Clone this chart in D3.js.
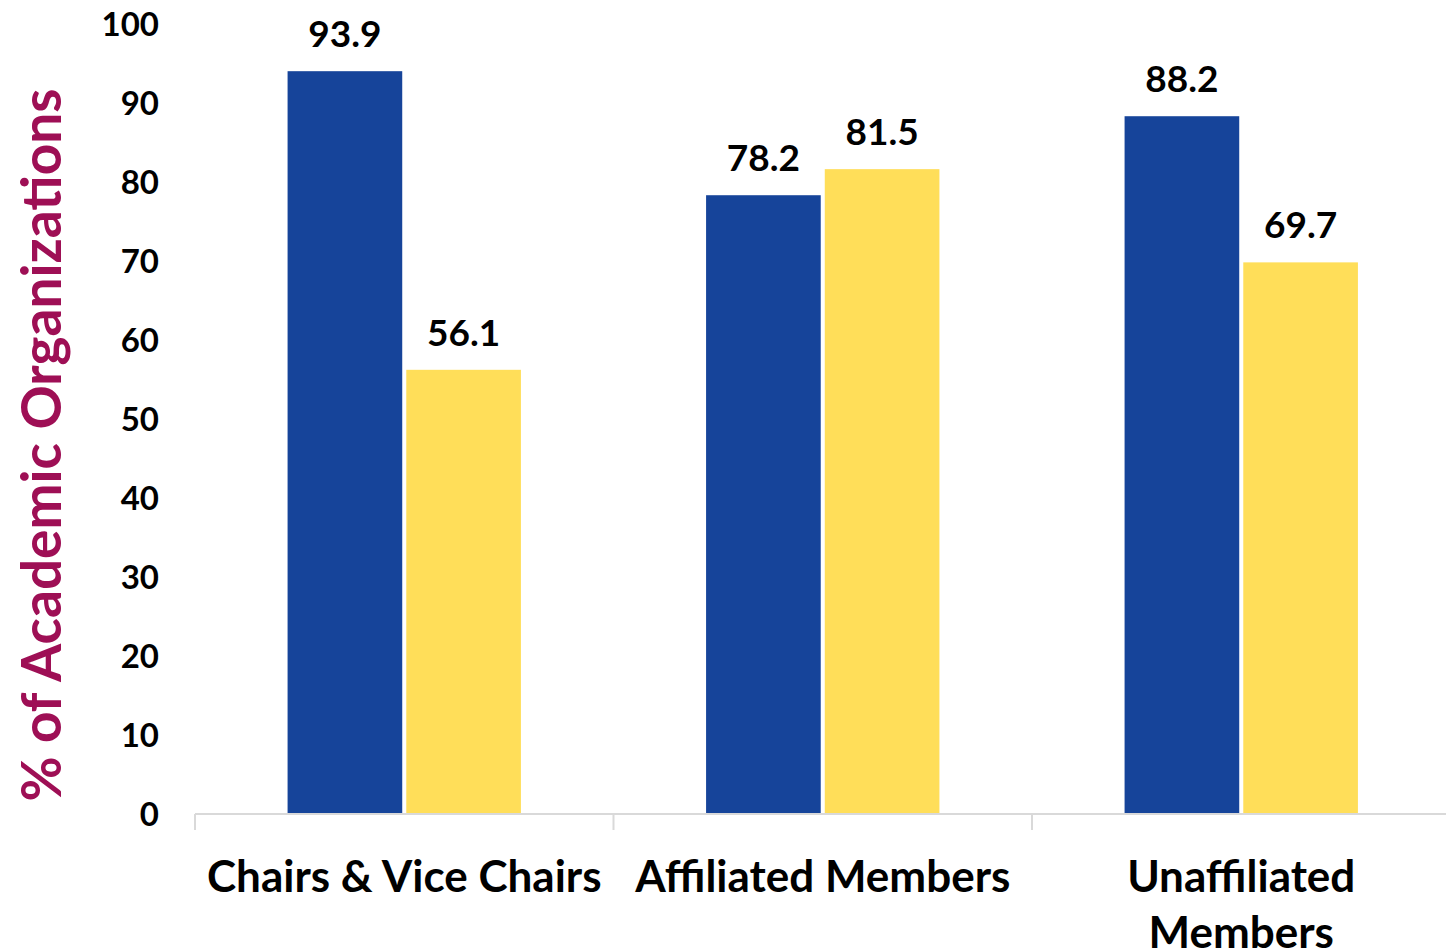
<!DOCTYPE html>
<html>
<head>
<meta charset="utf-8">
<script src="https://cdn.jsdelivr.net/npm/d3@7"></script>
<style>
  body { margin: 0; background: #fff; }
  svg { display: block; font-family: Lato, "Open Sans", sans-serif; }
</style>
</head>
<body>
<div id="chart"></div>
<script>
// data
const categories = ["Chairs & Vice Chairs", "Affiliated Members", "Unaffiliated Members"];
const categoryLines = [["Chairs & Vice Chairs"], ["Affiliated Members"], ["Unaffiliated", "Members"]];
const seriesNames = ["Series A", "Series B"];
const seriesA = [93.9, 78.2, 88.2];
const seriesB = [56.1, 81.5, 69.7];
const yTicks = [0, 10, 20, 30, 40, 50, 60, 70, 80, 90, 100];
const colors = ["#16449A", "#FFDE59"];

const width = 1446, height = 951;

const svg = d3.select("#chart")
  .append("svg")
  .attr("width", width)
  .attr("height", height);

const x0 = d3.scaleBand()
  .domain(categories)
  .range([195, 1450.5])
  .padding(0);

const x1 = d3.scaleBand()
  .domain(seriesNames)
  .range([0, x0.bandwidth()])
  .paddingInner(0.034)
  .paddingOuter(0.78);

const y = d3.scaleLinear()
  .domain([0, 100])
  .range([813, 23]);

const color = d3.scaleOrdinal().domain(seriesNames).range(colors);

const rows = categories.map((c, i) => ({
  cat: c,
  values: [
    { key: seriesNames[0], value: seriesA[i] },
    { key: seriesNames[1], value: seriesB[i] }
  ]
}));

// y tick labels (no axis line in the reference)
svg.append("g")
  .selectAll("text")
  .data(yTicks)
  .join("text")
    .attr("x", 159)
    .attr("y", d => y(d))
    .attr("dy", "0.38em")
    .attr("text-anchor", "end")
    .attr("font-size", 33)
    .attr("font-weight", 700)
    .attr("fill", "#000")
    .text(d => d);

// bars
const groups = svg.append("g")
  .selectAll("g")
  .data(rows)
  .join("g")
    .attr("transform", d => `translate(${x0(d.cat)},0)`);

groups.selectAll("rect")
  .data(d => d.values)
  .join("rect")
    .attr("x", d => x1(d.key))
    .attr("width", x1.bandwidth())
    .attr("y", d => y(d.value))
    .attr("height", d => y(0) - y(d.value))
    .attr("fill", d => color(d.key));

groups.selectAll("text")
  .data(d => d.values)
  .join("text")
    .attr("x", d => x1(d.key) + x1.bandwidth() / 2)
    .attr("y", d => y(d.value) - 24)
    .attr("text-anchor", "middle")
    .attr("font-size", 37)
    .attr("font-weight", 700)
    .attr("fill", "#000")
    .text(d => d.value.toFixed(1));

// x axis line and ticks
const xAxis = svg.append("g").attr("stroke", "#d9d9d9").attr("stroke-width", 2);
xAxis.append("line")
  .attr("x1", x0.range()[0]).attr("x2", width)
  .attr("y1", 814).attr("y2", 814);
xAxis.selectAll("line.tick")
  .data(categories.map(c => x0(c)).concat([x0.range()[1]]))
  .join("line")
    .attr("class", "tick")
    .attr("x1", d => d).attr("x2", d => d)
    .attr("y1", 814).attr("y2", 830);

// category labels
svg.append("g")
  .selectAll("text")
  .data(categories)
  .join("text")
    .attr("x", d => x0(d) + x0.bandwidth() / 2)
    .attr("y", 892)
    .attr("text-anchor", "middle")
    .attr("font-size", 44)
    .attr("font-weight", 700)
    .attr("fill", "#000")
  .selectAll("tspan")
  .data((d, i) => categoryLines[i].map((t, j) => ({ t, j, cx: x0(d) + x0.bandwidth() / 2 })))
  .join("tspan")
    .attr("x", d => d.cx)
    .attr("dy", d => d.j === 0 ? 0 : 56)
    .text(d => d.t);

// y axis title
svg.append("text")
  .attr("transform", "translate(61,445) rotate(-90)")
  .attr("text-anchor", "middle")
  .attr("font-size", 55)
  .attr("font-weight", 700)
  .attr("fill", "#9E0F55")
  .text("% of Academic Organizations");
</script>
</body>
</html>
